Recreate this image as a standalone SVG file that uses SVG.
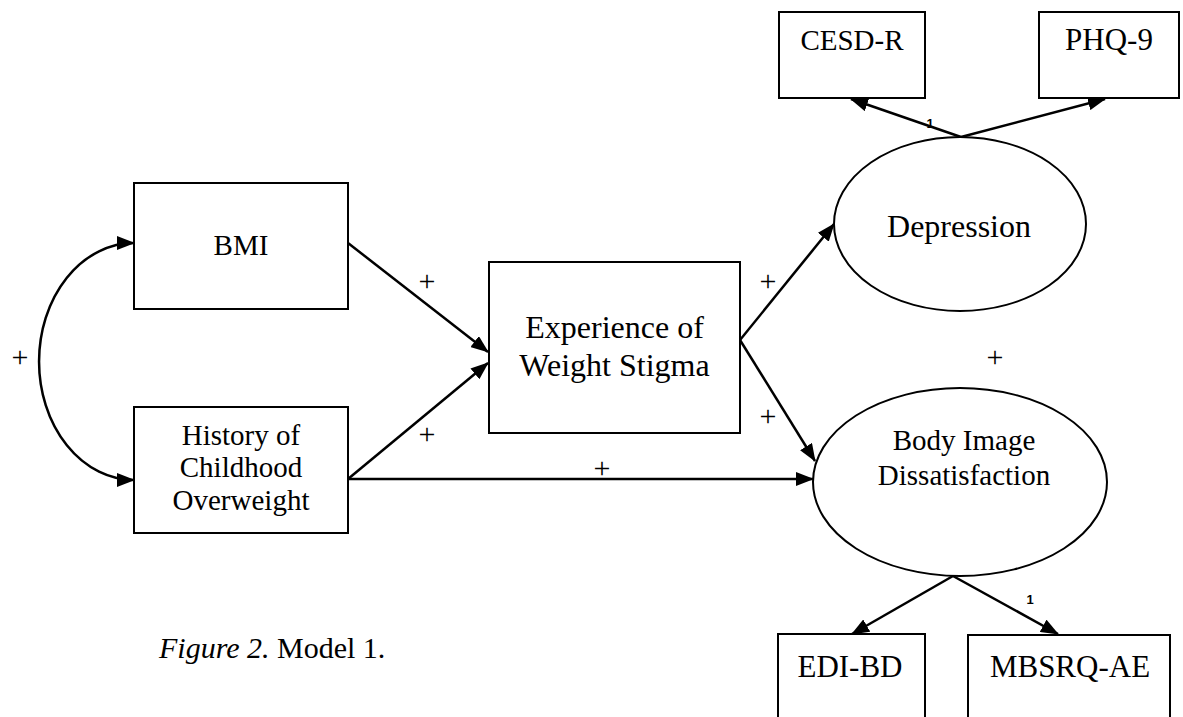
<svg xmlns="http://www.w3.org/2000/svg" width="1183" height="717" viewBox="0 0 1183 717">
<style>
.box{fill:#fff;stroke:#000;stroke-width:2}
.t{font-family:"Liberation Serif","Times New Roman",serif;fill:#000;text-anchor:middle}
.s29{font-size:29px}.s31{font-size:31px}.s32{font-size:32px}
.plus{font-family:"Liberation Serif","Times New Roman",serif;font-size:30px;fill:#000;text-anchor:middle}
.one{font-family:"Liberation Sans",Arial,sans-serif;font-size:13px;font-weight:bold;fill:#000;text-anchor:middle}
.conn{fill:none;stroke:#000;stroke-width:2.5;marker-end:url(#ah)}
</style>
<defs>
<marker id="ah" viewBox="0 0 18 14" refX="17" refY="7" markerWidth="18" markerHeight="14" markerUnits="userSpaceOnUse" orient="auto-start-reverse">
<path d="M0,0 L18,7 L0,14 z" fill="#000"/>
</marker>
</defs>
<rect width="1183" height="717" fill="#fff"/>
<g id="connectors">
<path class="conn" d="M134,243 A95,118.5 0 0 0 134,480" marker-start="url(#ah)"/>
<path class="conn" d="M348,243 L488,352"/>
<path class="conn" d="M348,479 L488,363"/>
<path class="conn" d="M348,479 L813,479"/>
<path class="conn" d="M740,340 L834,224"/>
<path class="conn" d="M740,340 L815,461"/>
<path class="conn" d="M961,137 L851,99"/>
<path class="conn" d="M961,137 L1105,99"/>
<path class="conn" d="M953,576 L852,634"/>
<path class="conn" d="M953,576 L1058,634"/>
</g>
<g id="bmi">
<rect class="box" x="134" y="183" width="214" height="126"/>
<text class="t s29" x="241" y="255">BMI</text>
</g>
<g id="history">
<rect class="box" x="134" y="407" width="214" height="126"/>
<text class="t s29" x="241" y="445">History of</text>
<text class="t s29" x="241" y="477">Childhood</text>
<text class="t s29" x="241" y="510">Overweight</text>
</g>
<g id="stigma">
<rect class="box" x="489" y="262" width="251" height="171"/>
<text class="t s32" x="614.5" y="338">Experience of</text>
<text class="t s32" x="614.5" y="376">Weight Stigma</text>
</g>
<g id="depression">
<ellipse class="box" cx="960" cy="224" rx="126" ry="87"/>
<text class="t s32" x="959" y="237">Depression</text>
</g>
<g id="bodyimage">
<ellipse class="box" cx="960" cy="482" rx="147" ry="94"/>
<text class="t s29" x="964" y="450">Body Image</text>
<text class="t s29" x="964" y="485">Dissatisfaction</text>
</g>
<g id="cesdr">
<rect class="box" x="779" y="12" width="146" height="86"/>
<text class="t s29" x="852" y="50">CESD-R</text>
</g>
<g id="phq9">
<rect class="box" x="1039" y="12" width="140" height="86"/>
<text class="t s31" x="1109" y="50">PHQ-9</text>
</g>
<g id="edibd">
<rect class="box" x="778" y="634" width="147" height="100"/>
<text class="t s31" x="850" y="677">EDI-BD</text>
</g>
<g id="mbsrqae">
<rect class="box" x="968" y="635" width="202" height="100"/>
<text class="t s31" x="1070" y="677">MBSRQ-AE</text>
</g>
<g id="labels">
<text class="plus" x="20" y="367">+</text>
<text class="plus" x="427" y="291">+</text>
<text class="plus" x="427" y="444">+</text>
<text class="plus" x="602" y="478">+</text>
<text class="plus" x="768" y="291">+</text>
<text class="plus" x="768" y="426">+</text>
<text class="plus" x="995" y="367">+</text>
<text class="one" x="930" y="128">1</text>
<text class="one" x="1030" y="604">1</text>
</g>
<g id="caption">
<text x="159" y="658" font-family="'Liberation Serif','Times New Roman',serif" font-size="30" fill="#000"><tspan font-style="italic">Figure 2.</tspan> Model 1.</text>
</g>
</svg>
